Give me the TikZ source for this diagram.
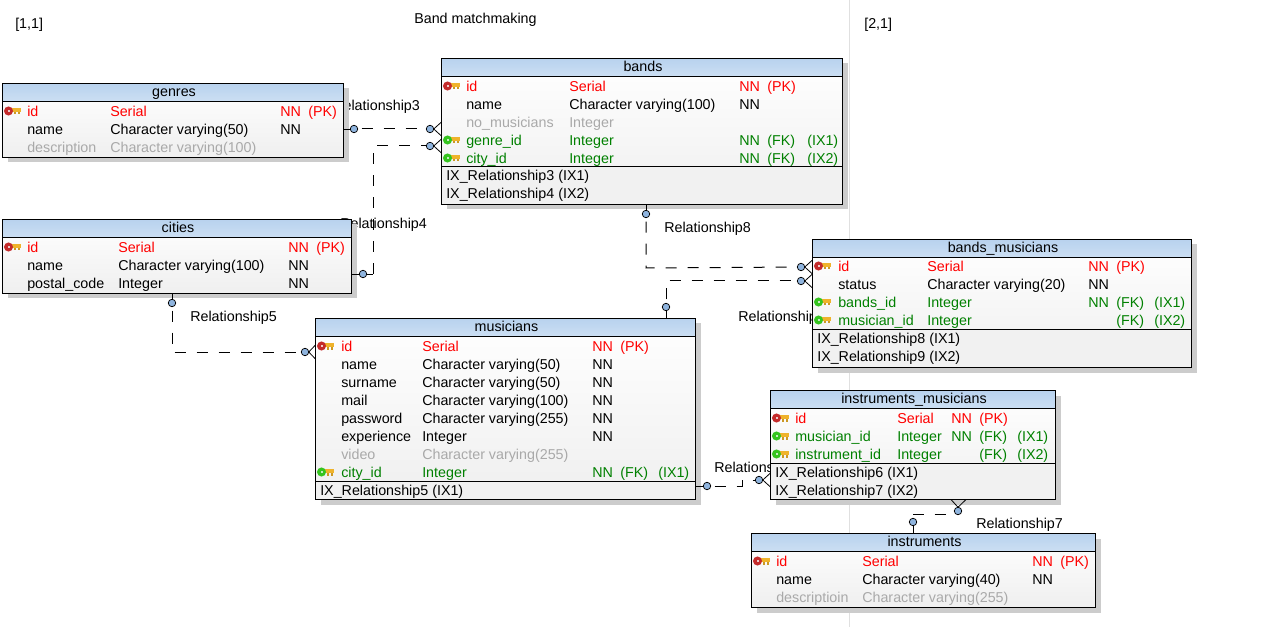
\documentclass[tikz,border=0pt]{standalone}
\usepackage{fontspec}
\setmainfont{Liberation Sans}
\definecolor{pkred}{HTML}{FF0000}
\definecolor{fkgreen}{HTML}{008000}
\definecolor{mutedgray}{HTML}{A9A9A9}
\definecolor{headtop}{HTML}{B8D2EE}
\definecolor{headbot}{HTML}{CCDFF3}
\definecolor{rowbot}{HTML}{EFEFEF}
\definecolor{idxfill}{HTML}{F1F1F1}
\definecolor{shadowgray}{HTML}{CCCCCC}
\definecolor{gridgray}{HTML}{E0E0E0}
\definecolor{dotblue}{HTML}{8FB4DE}
\definecolor{keygold}{HTML}{EFB32B}
\definecolor{ringred}{HTML}{C42B2B}
\definecolor{ringgreen}{HTML}{35C41F}
\tikzset{
  txt/.style={font=\fontsize{10.72pt}{12pt}\selectfont,inner sep=0pt,text=black},
  celltxt/.style={txt,anchor=base west},
  reltxt/.style={txt,anchor=base west},
  tablebody/.style={draw=black,line width=0.8pt,anchor=north west,inner sep=0pt,outer sep=0pt,top color=white,bottom color=rowbot},
  tablehead/.style={line width=0.8pt,draw=black,top color=headtop,bottom color=headbot},
  pk/.style={text=pkred},
  fk/.style={text=fkgreen},
  muted/.style={text=mutedgray},
  rdot/.style={circle,draw=black,fill=dotblue,line width=0.55pt,minimum size=5.6pt,inner sep=0pt,outer sep=0pt},
  rel/.style={line width=0.75pt,draw=black,dash pattern=on 8.25pt off 8.25pt,dash phase=13.5pt},
  relplain/.style={line width=0.75pt,draw=black,dash pattern=on 8.25pt off 8.25pt},
  stub/.style={line width=0.6pt,draw=black},
}
\newcounter{cellcnt}
% name, x, y, w, h, title
\newcommand{\tbl}[6]{%
  \fill[shadowgray] (#2+5,#3+5) rectangle ++(#4,#5);
  \node[tablebody,minimum width=#4*0.75pt,minimum height=#5*0.75pt] (#1) at (#2,#3) {};
  \path[tablehead] (#2,#3) rectangle ++(#4,18);
  \stepcounter{cellcnt}%
  \node[txt,anchor=base] (h\arabic{cellcnt}) at (#2+#4/2+1,#3+13) {#6};
}
% x, row-centre y, style, text
\newcommand{\cel}[4]{%
  \stepcounter{cellcnt}%
  \node[celltxt,#3] (c\arabic{cellcnt}) at (#1,#2+5.4) {#4};
}
% left, divider y, width, bottom y
\newcommand{\idx}[4]{%
  \fill[idxfill] (#1,#2) rectangle ++(#3,#4-#2);
  \draw[line width=0.8pt] (#1,#2) rectangle ++(#3,#4-#2);
}
% x, y, ring colour
\newcommand{\keyicon}[3]{%
  \fill[keygold] (#1+5,#2-3) rectangle (#1+16,#2+1);
  \fill[keygold!85!black] (#1+8.5,#2+1) rectangle (#1+11,#2+3.5);
  \fill[keygold!85!black] (#1+12.5,#2+1) rectangle (#1+15,#2+3.5);
  \fill[#3,even odd rule] (#1+3.5,#2) circle[radius=3.4pt] (#1+4,#2) circle[radius=1pt];
}
\begin{document}
\begin{tikzpicture}[x=0.75pt,y=-0.75pt]
\useasboundingbox (0,0) rectangle (1285,627);
\fill[white] (0,0) rectangle (1285,627);
\coordinate (gridtop) at (849,0);
\coordinate (gridbot) at (849,627);
\draw[gridgray,line width=0.75pt] (gridtop) -- (gridbot);

\node[celltxt] (t11) at (15,28.5) {[1,1]};
\node[celltxt] (t21) at (864,28.5) {[2,1]};
\node[celltxt] (title) at (414,23.5) {Band matchmaking};

\node[reltxt] (l3) at (333,110.5) {Relationship3};
\node[reltxt] (l4) at (340,228.5) {Relationship4};
\node[reltxt] (l5) at (190,321) {Relationship5};
\node[reltxt] (l8) at (664,232.5) {Relationship8};
\node[reltxt] (l9) at (738,321) {Relationship9};
\node[reltxt] (l6) at (714,472) {Relationship6};
\node[reltxt] (l7) at (976,528) {Relationship7};

% genres
\tbl{genres}{2.5}{83.5}{341}{74}{genres}
\keyicon{5}{111}{ringred}
\cel{27}{111}{pk}{id}\cel{110}{111}{pk}{Serial}\cel{280}{111}{pk}{NN}\cel{308}{111}{pk}{(PK)}
\cel{27}{129}{}{name}\cel{110}{129}{}{Character varying(50)}\cel{280}{129}{}{NN}
\cel{27}{147}{muted}{description}\cel{110}{147}{muted}{Character varying(100)}

% cities
\tbl{cities}{2.5}{219.5}{349}{74}{cities}
\keyicon{5}{247}{ringred}
\cel{27}{247}{pk}{id}\cel{118}{247}{pk}{Serial}\cel{288}{247}{pk}{NN}\cel{316}{247}{pk}{(PK)}
\cel{27}{265}{}{name}\cel{118}{265}{}{Character varying(100)}\cel{288}{265}{}{NN}
\cel{27}{283}{}{postal\_code}\cel{118}{283}{}{Integer}\cel{288}{283}{}{NN}

% bands
\tbl{bands}{441.5}{58.5}{401}{146}{bands}
\idx{441.5}{166.5}{401}{204.5}
\keyicon{444}{86}{ringred}
\cel{466}{86}{pk}{id}\cel{569}{86}{pk}{Serial}\cel{739}{86}{pk}{NN}\cel{767}{86}{pk}{(PK)}
\cel{466}{104}{}{name}\cel{569}{104}{}{Character varying(100)}\cel{739}{104}{}{NN}
\cel{466}{122}{muted}{no\_musicians}\cel{569}{122}{muted}{Integer}
\keyicon{444}{140}{ringgreen}
\cel{466}{140}{fk}{genre\_id}\cel{569}{140}{fk}{Integer}\cel{739}{140}{fk}{NN}\cel{767}{140}{fk}{(FK)}\cel{807}{140}{fk}{(IX1)}
\keyicon{444}{158}{ringgreen}
\cel{466}{158}{fk}{city\_id}\cel{569}{158}{fk}{Integer}\cel{739}{158}{fk}{NN}\cel{767}{158}{fk}{(FK)}\cel{807}{158}{fk}{(IX2)}
\cel{446}{175}{}{IX\_Relationship3 (IX1)}
\cel{446}{193}{}{IX\_Relationship4 (IX2)}

% bands_musicians
\tbl{bandsmusicians}{812.5}{239.5}{379}{128}{bands\_musicians}
\idx{812.5}{329.5}{379}{367.5}
\keyicon{815}{266}{ringred}
\cel{838}{266}{pk}{id}\cel{927}{266}{pk}{Serial}\cel{1088}{266}{pk}{NN}\cel{1116}{266}{pk}{(PK)}
\cel{838}{284}{}{status}\cel{927}{284}{}{Character varying(20)}\cel{1088}{284}{}{NN}
\keyicon{815}{302}{ringgreen}
\cel{838}{302}{fk}{bands\_id}\cel{927}{302}{fk}{Integer}\cel{1088}{302}{fk}{NN}\cel{1116}{302}{fk}{(FK)}\cel{1154}{302}{fk}{(IX1)}
\keyicon{815}{320}{ringgreen}
\cel{838}{320}{fk}{musician\_id}\cel{927}{320}{fk}{Integer}\cel{1116}{320}{fk}{(FK)}\cel{1154}{320}{fk}{(IX2)}
\cel{817}{338}{}{IX\_Relationship8 (IX1)}
\cel{817}{356}{}{IX\_Relationship9 (IX2)}

% musicians
\tbl{musicians}{315.5}{318.5}{380}{181}{musicians}
\idx{315.5}{481.5}{380}{499.5}
\keyicon{318}{346}{ringred}
\cel{341}{346}{pk}{id}\cel{422}{346}{pk}{Serial}\cel{592}{346}{pk}{NN}\cel{620}{346}{pk}{(PK)}
\cel{341}{364}{}{name}\cel{422}{364}{}{Character varying(50)}\cel{592}{364}{}{NN}
\cel{341}{382}{}{surname}\cel{422}{382}{}{Character varying(50)}\cel{592}{382}{}{NN}
\cel{341}{400}{}{mail}\cel{422}{400}{}{Character varying(100)}\cel{592}{400}{}{NN}
\cel{341}{418}{}{password}\cel{422}{418}{}{Character varying(255)}\cel{592}{418}{}{NN}
\cel{341}{436}{}{experience}\cel{422}{436}{}{Integer}\cel{592}{436}{}{NN}
\cel{341}{454}{muted}{video}\cel{422}{454}{muted}{Character varying(255)}
\keyicon{318}{472}{ringgreen}
\cel{341}{472}{fk}{city\_id}\cel{422}{472}{fk}{Integer}\cel{592}{472}{fk}{NN}\cel{620}{472}{fk}{(FK)}\cel{658}{472}{fk}{(IX1)}
\cel{320}{490}{}{IX\_Relationship5 (IX1)}

% instruments_musicians
\tbl{instmus}{770.5}{390.5}{285}{109}{instruments\_musicians}
\idx{770.5}{463.5}{285}{499.5}
\keyicon{773}{418}{ringred}
\cel{795}{418}{pk}{id}\cel{897}{418}{pk}{Serial}\cel{951}{418}{pk}{NN}\cel{979}{418}{pk}{(PK)}
\keyicon{773}{436}{ringgreen}
\cel{795}{436}{fk}{musician\_id}\cel{897}{436}{fk}{Integer}\cel{951}{436}{fk}{NN}\cel{979}{436}{fk}{(FK)}\cel{1017}{436}{fk}{(IX1)}
\keyicon{773}{454}{ringgreen}
\cel{795}{454}{fk}{instrument\_id}\cel{897}{454}{fk}{Integer}\cel{979}{454}{fk}{(FK)}\cel{1017}{454}{fk}{(IX2)}
\cel{775}{472}{}{IX\_Relationship6 (IX1)}
\cel{775}{490}{}{IX\_Relationship7 (IX2)}

% instruments
\tbl{instruments}{751.5}{533.5}{344}{74}{instruments}
\keyicon{754}{561}{ringred}
\cel{776}{561}{pk}{id}\cel{862}{561}{pk}{Serial}\cel{1032}{561}{pk}{NN}\cel{1060}{561}{pk}{(PK)}
\cel{776}{579}{}{name}\cel{862}{579}{}{Character varying(40)}\cel{1032}{579}{}{NN}
\cel{776}{597}{muted}{descriptioin}\cel{862}{597}{muted}{Character varying(255)}

% Relationship3: genres -> bands
\node[rdot] (r3a) at (354,129) {};
\node[rdot] (r3b) at (430,129) {};
\draw[stub] (genres.east |- r3a) -- (r3a);
\draw[rel] (r3a) -- (r3b);
\draw[stub] (r3b.east) -- (bands.west |- 0,122);
\draw[stub] (r3b.east) -- (bands.west |- 0,136);

% Relationship4: cities -> bands
\node[rdot] (r4a) at (363,274) {};
\node[rdot] (r4b) at (430,146) {};
\coordinate (r4k) at (373,146);
\coordinate (r4j) at (373,274);
\draw[stub] (cities.east |- r4a) -- (r4a) -- (r4j);
\draw[relplain] (r4j) -- (r4k) -- (r4b);
\draw[stub] (r4b.east) -- (bands.west |- 0,139);
\draw[stub] (r4b.east) -- (bands.west |- 0,153);

% Relationship5: cities -> musicians
\node[rdot] (r5a) at (172,303) {};
\node[rdot] (r5b) at (305,352) {};
\coordinate (r5k) at (172,352);
\draw[stub] (cities.south -| r5a) -- (r5a);
\draw[rel] (r5a) -- (r5k) -- (r5b);
\draw[stub] (r5b.east) -- (musicians.west |- 0,345);
\draw[stub] (r5b.east) -- (musicians.west |- 0,359);

% Relationship8: bands -> bands_musicians
\node[rdot] (r8a) at (646,214) {};
\node[rdot] (r8b) at (801,267) {};
\coordinate (r8k) at (646,268);
\draw[stub] (bands.south -| r8a) -- (r8a);
\draw[rel] (r8a) -- (r8k) -- (r8b);
\draw[stub] (r8b.east) -- (bandsmusicians.west |- 0,260);
\draw[stub] (r8b.east) -- (bandsmusicians.west |- 0,274);

% Relationship9: musicians -> bands_musicians
\node[rdot] (r9a) at (666,307) {};
\node[rdot] (r9b) at (801,281) {};
\coordinate (r9k) at (666,281);
\draw[stub] (musicians.north -| r9a) -- (r9a);
\draw[rel] (r9a) -- (r9k) -- (r9b);
\draw[stub] (r9b.east) -- (bandsmusicians.west |- 0,274);
\draw[stub] (r9b.east) -- (bandsmusicians.west |- 0,288);

% Relationship6: musicians -> instruments_musicians
\node[rdot] (r6a) at (707,486) {};
\node[rdot] (r6b) at (759,480) {};
\coordinate (r6j) at (742,486);
\coordinate (r6k) at (742,480);
\draw[stub] (musicians.east |- r6a) -- (r6a);
\draw[rel] (r6a) -- (r6j) -- (r6k) -- (r6b);
\draw[stub] (r6b.east) -- (instmus.west |- 0,473);
\draw[stub] (r6b.east) -- (instmus.west |- 0,487);

% Relationship7: instruments -> instruments_musicians
\node[rdot] (r7a) at (913,522) {};
\node[rdot] (r7b) at (958,511) {};
\coordinate (r7k) at (913,514);
\coordinate (r7j) at (958,514);
\draw[stub] (instruments.north -| r7a) -- (r7a);
\draw[rel] (r7a) -- (r7k) -- (r7j);
\draw[stub] (r7b.north) -- (951,499.5);
\draw[stub] (r7b.north) -- (966,499.5);
\end{tikzpicture}
\end{document}
